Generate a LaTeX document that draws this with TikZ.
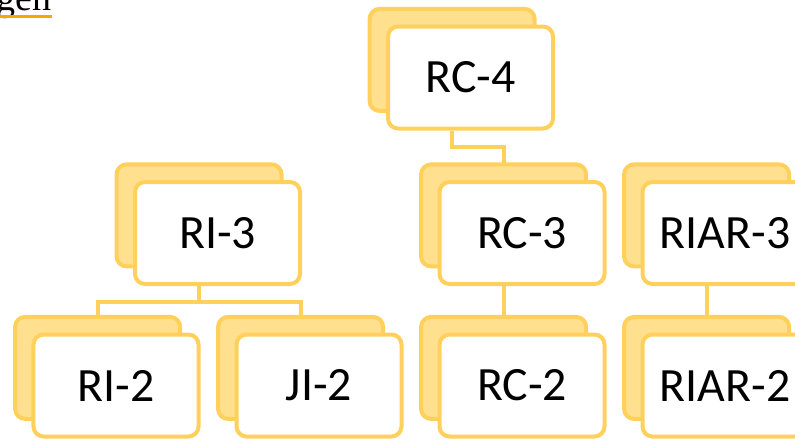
\documentclass[tikz,border=0pt]{standalone}
\usepackage{fontspec}
\setmainfont{Liberation Serif}
\newfontfamily\boxfont{Carlito}
\usetikzlibrary{positioning,shadows,backgrounds}
\definecolor{boxedge}{HTML}{FFD15C}
\definecolor{boxback}{HTML}{FFE08F}
\definecolor{ulorange}{HTML}{F2A900}

\begin{document}
\begin{tikzpicture}[node distance = 3.8125cm and 5.075cm, on grid,
level/.style = {rectangle, rounded corners = 0.25cm, draw = boxedge, line width = 0.1cm, fill = white,
  minimum width = 4.125cm, minimum height = 2.55cm, font = \boxfont\fontsize{34}{40}\selectfont,
  copy shadow = {shadow xshift = -0.46cm, shadow yshift = 0.44cm, draw = boxedge, fill = boxback, line width = 0.1cm}},
link/.style = {draw = boxedge, line width = 0.1cm}]
\useasboundingbox (0,0) rectangle (19.875,-11.075);

\node[inner sep = 0pt, anchor = base east, font = \fontsize{27}{32}\selectfont] (gen) at (1.3,-0.27) {gen};
\draw[ulorange, line width = 0.075cm] ([yshift=-0.15cm]gen.base west) -- ([yshift=-0.15cm]gen.base east);

\node[level] (RI2) at (2.9,-9.6375) {RI-2};
\node[level] (JI2) [right = of RI2] {JI-2};
\node[level] (RC2) [right = of JI2] {RC-2};
\node[level] (RIAR2) [right = of RC2] {RIAR-2};
\node[level] (RI3) [above right = 3.8125cm and 2.5375cm of RI2] {RI-3};
\node[level] (RC3) [above = of RC2] {RC-3};
\node[level] (RIAR3) [above = of RIAR2] {RIAR-3};
\node[level] (RC4) [above left = 3.8875cm and 1.2875cm of RC3] {RC-4};

\begin{scope}[on background layer]
\draw[link] ([xshift=-0.46cm]RC4.south) -- ++(0,-0.4cm) -| ([xshift=-0.46cm]RC3.north);
\draw[link] ([xshift=-0.46cm]RI3.south) -- ++(0,-0.4cm) -| ([xshift=-0.46cm]RI2.north);
\draw[link] ([xshift=-0.46cm]RI3.south) -- ++(0,-0.4cm) -| ([xshift=-0.46cm]JI2.north);
\draw[link] ([xshift=-0.46cm]RC3.south) -- ([xshift=-0.46cm]RC2.north);
\draw[link] ([xshift=-0.46cm]RIAR3.south) -- ([xshift=-0.46cm]RIAR2.north);
\end{scope}
\end{tikzpicture}
\end{document}
